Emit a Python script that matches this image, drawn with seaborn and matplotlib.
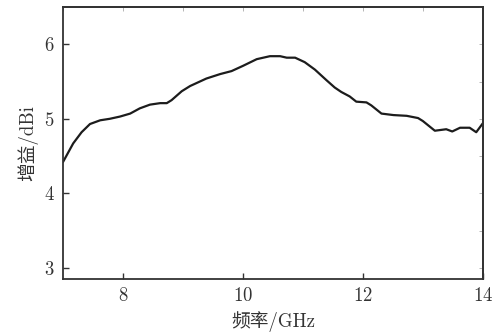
import numpy as np
import matplotlib
matplotlib.use("Agg")
import matplotlib.pyplot as plt
import seaborn as sns

# 频率 (GHz) 与增益 (dBi)
freq = [7.0, 7.17, 7.31, 7.45, 7.62, 7.78, 7.95, 8.12, 8.28, 8.45, 8.62, 8.73,
        8.81, 8.98, 9.12, 9.39, 9.62, 9.81, 10.0, 10.23, 10.45, 10.62, 10.73,
        10.87, 11.03, 11.2, 11.39, 11.53, 11.64, 11.78, 11.89, 12.06, 12.14,
        12.31, 12.51, 12.73, 12.92, 13.0, 13.2, 13.39, 13.49, 13.62, 13.78,
        13.89, 14.0]
gain = [4.42, 4.67, 4.82, 4.93, 4.98, 5.00, 5.03, 5.07, 5.14, 5.19, 5.21, 5.21,
        5.25, 5.37, 5.44, 5.54, 5.60, 5.64, 5.71, 5.80, 5.84, 5.84, 5.82,
        5.82, 5.76, 5.66, 5.52, 5.42, 5.36, 5.30, 5.23, 5.22, 5.18,
        5.07, 5.05, 5.04, 5.01, 4.97, 4.84, 4.86, 4.83, 4.88, 4.88,
        4.82, 4.94]

xticks = [8, 10, 12, 14]
yticks = [3, 4, 5, 6]

sns.set_style("ticks")
plt.rcParams['font.family'] = ['cmr10', 'Noto Sans CJK SC']
plt.rcParams['axes.formatter.use_mathtext'] = True

fig = plt.figure(figsize=(5.04, 3.33), dpi=100)
ax = fig.add_axes([0.125, 0.162, 0.833, 0.817])

sns.lineplot(x=freq, y=gain, ax=ax, color="#1c1c1c", linewidth=1.6)

ax.set_xlim(7, 14)
ax.set_ylim(2.85, 6.5)
ax.set_xticks(xticks)
ax.set_yticks(yticks)
ax.tick_params(direction="in", length=4, width=1.0, color="#333333",
               labelsize=13.5, labelcolor="#333333", pad=6)

for s in ax.spines.values():
    s.set_linewidth(1.3)
    s.set_color("#333333")

# 上、右两边的浅色小刻度
top = ax.secondary_xaxis("top")
top.set_xticks(np.arange(7, 15, 1))
top.tick_params(direction="in", length=3, width=0.6, color="#aaaaaa",
                labeltop=False)
right = ax.secondary_yaxis("right")
right.set_yticks(np.arange(3, 6.6, 0.5))
right.tick_params(direction="in", length=3, width=0.6, color="#aaaaaa",
                  labelright=False)
for sec in (top, right):
    for s in sec.spines.values():
        s.set_linewidth(1.3)
        s.set_color("#333333")

ax.set_xlabel("频率/GHz", fontsize=13.5, color="#333333", labelpad=4)
ax.set_ylabel("增益/dBi", fontsize=13.5, color="#333333", labelpad=4)

fig.savefig("out.png", dpi=100)
